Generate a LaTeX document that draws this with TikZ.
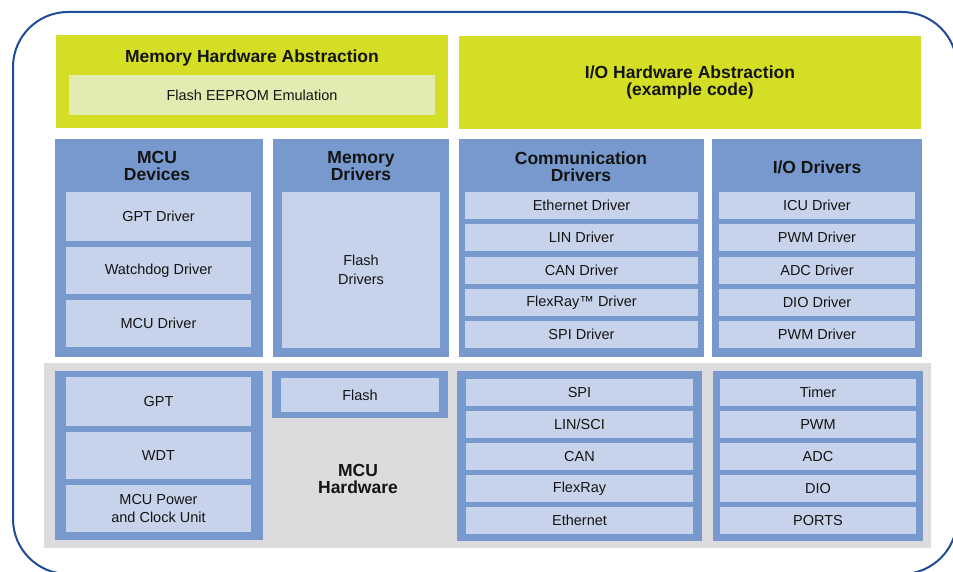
\documentclass[tikz,border=0pt]{standalone}
\usepackage{fontspec}
\setmainfont{Liberation Sans}
\definecolor{framecol}{HTML}{1F4C9A}
\definecolor{limecol}{HTML}{D3DE24}
\definecolor{limelight}{HTML}{E2EBB1}
\definecolor{colblue}{HTML}{7899CE}
\definecolor{cellblue}{HTML}{C6D3EA}
\definecolor{hwgray}{HTML}{DCDCDE}
\newcommand\bx[7]{\node[#6, minimum width={#4-#2}, minimum height={#5-#3}, anchor=north west] (#1) at (#2,#3) {#7};}
\begin{document}
\begin{tikzpicture}[x=1pt,y=-1pt,
  every node/.style={inner sep=0pt, outer sep=0pt, align=center, text=black!92},
  limebox/.style={fill=limecol},
  limeinner/.style={fill=limelight, font=\fontsize{14.5}{18}\selectfont},
  colbox/.style={fill=colblue},
  cellbox/.style={fill=cellblue, font=\fontsize{14.5}{18}\selectfont},
  graybox/.style={fill=hwgray},
  titletext/.style={font=\bfseries\fontsize{17.5}{17}\selectfont},
  plaintext/.style={font=\fontsize{14.5}{19}\selectfont}
]
\useasboundingbox (0,0) rectangle (953,572);
\fill[white] (0,0) rectangle (953,572);
\draw[framecol, line width=2pt, rounded corners=55pt] (13,12) rectangle (957,574);

% top abstraction layer
\bx{mha}{56}{35}{448}{128}{limebox}{}
\node[titletext] (mhat) at (252,57.5) {Memory Hardware Abstraction};
\bx{fee}{69}{75}{435}{115}{limeinner}{Flash EEPROM Emulation}
\bx{ioha}{459}{36}{921}{129}{limebox}{}
\node[titletext, font=\bfseries\fontsize{17.5}{16.5}\selectfont] (ioht) at (690,82.5) {I/O Hardware Abstraction\\(example code)};

% driver columns
\bx{mcud}{55}{139}{263}{357}{colbox}{}
\node[titletext] (mcudt) at (157,166) {MCU\\Devices};
\bx{gptd}{66}{192}{251}{241}{cellbox}{GPT Driver}
\bx{wdgd}{66}{247}{251}{294}{cellbox}{Watchdog Driver}
\bx{mcudr}{66}{300}{251}{347}{cellbox}{MCU Driver}

\bx{memd}{273}{139}{449}{357}{colbox}{}
\node[titletext] (memdt) at (361,166) {Memory\\Drivers};
\bx{flashd}{282}{192}{440}{348}{cellbox}{}
\node[plaintext] (flashdt) at (361,270) {Flash\\Drivers};

\bx{comd}{459}{139}{704}{357}{colbox}{}
\node[titletext] (comdt) at (581,166.5) {Communication\\Drivers};
\bx{ethd}{465}{192}{698}{219}{cellbox}{Ethernet Driver}
\bx{lind}{465}{224}{698}{251}{cellbox}{LIN Driver}
\bx{cand}{465}{257}{698}{284}{cellbox}{CAN Driver}
\bx{frd}{465}{289}{698}{316}{cellbox}{FlexRay™ Driver}
\bx{spid}{465}{321}{698}{348}{cellbox}{SPI Driver}

\bx{iod}{712}{139}{922}{357}{colbox}{}
\node[titletext] (iodt) at (817,167) {I/O Drivers};
\bx{icud}{719}{192}{915}{219}{cellbox}{ICU Driver}
\bx{pwmd}{719}{224}{915}{251}{cellbox}{PWM Driver}
\bx{adcd}{719}{257}{915}{284}{cellbox}{ADC Driver}
\bx{diod}{719}{289}{915}{316}{cellbox}{DIO Driver}
\bx{pwmdb}{719}{321}{915}{348}{cellbox}{PWM Driver}

% MCU hardware layer
\bx{hw}{44}{363}{931}{548}{graybox}{}
\node[titletext] (hwt) at (358,479) {MCU\\Hardware};

\bx{hwl}{55}{371}{263}{540}{colbox}{}
\bx{gpt}{66}{377}{251}{426}{cellbox}{GPT}
\bx{wdt}{66}{432}{251}{479}{cellbox}{WDT}
\bx{pwr}{66}{485}{251}{532}{cellbox}{MCU Power\\and Clock Unit}

\bx{hwf}{272}{371}{448}{418}{colbox}{}
\bx{flash}{281}{378}{439}{412}{cellbox}{Flash}

\bx{hwc}{457}{371}{702}{541}{colbox}{}
\bx{spi}{466}{379}{693}{406}{cellbox}{SPI}
\bx{lin}{466}{411}{693}{438}{cellbox}{LIN/SCI}
\bx{can}{466}{443}{693}{470}{cellbox}{CAN}
\bx{fr}{466}{475}{693}{502}{cellbox}{FlexRay}
\bx{eth}{466}{507}{693}{534}{cellbox}{Ethernet}

\bx{hwio}{713}{371}{923}{541}{colbox}{}
\bx{tmr}{720}{379}{916}{406}{cellbox}{Timer}
\bx{pwm}{720}{411}{916}{438}{cellbox}{PWM}
\bx{adc}{720}{443}{916}{470}{cellbox}{ADC}
\bx{dio}{720}{475}{916}{502}{cellbox}{DIO}
\bx{ports}{720}{507}{916}{534}{cellbox}{PORTS}
\end{tikzpicture}
\end{document}
